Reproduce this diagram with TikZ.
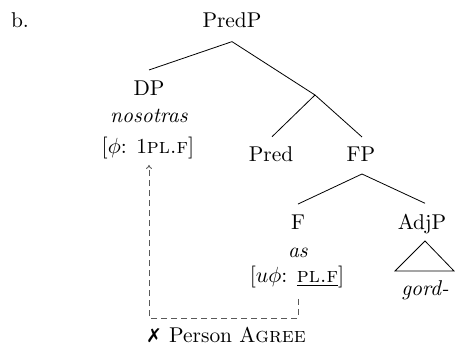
\documentclass[tikz,border=0pt]{standalone}
\usepackage{fontspec}
\newfontfamily\symfont{DejaVu Sans}
\usetikzlibrary{arrows.meta}
\begin{document}
\begin{tikzpicture}[x=0.5pt,y=-0.5pt,
  every node/.style={inner sep=0pt,anchor=base,font=\fontsize{10.7}{12}\selectfont},
  branch/.style={line width=0.4pt,black},
  agree/.style={dashed,dash pattern=on 3pt off 2pt,line width=0.45pt,black!65}]
\useasboundingbox (0,0) rectangle (455,352);
% example label
\node (ex) at (20,28) {b.};
% tree nodes (positions given at baselines)
\node (predp) at (232,28) {PredP};
\node (dp) at (149,96) {DP};
\node (dpw) at (149,123) {\textit{nosotras}};
\node (dpf) at (148,154) {$[\phi$: 1\textsc{pl.f}$]$};
\coordinate (bar) at (315,95);
\node (pred) at (271,162) {Pred};
\node (fp) at (361,162) {FP};
\coordinate (fbar) at (362,174);
\node (f) at (298,230) {F};
\node (fw) at (298,257) {\textit{as}};
\node (ff) at (297,283) {$[u\phi$: \underline{\textsc{pl.f}}$]$};
\node (adjp) at (422,230) {AdjP};
\coordinate (tri) at (425,241);
\node (adjw) at (425,295) {\textit{gord-}};
\node (agr) at (226,343) {{\symfont\fontsize{9.5}{11}\selectfont\bfseries ✗} Person A\textsc{gree}};
% branches
\draw[branch] ([yshift=-6.5pt]predp.south) -- ([yshift=5.5pt]dp.north);
\draw[branch] ([yshift=-6.5pt]predp.south) -- (bar);
\draw[branch] (bar) -- ([xshift=0.5pt,yshift=5pt]pred.north);
\draw[branch] (bar) -- ([xshift=0.5pt,yshift=5pt]fp.north);
\draw[branch] (fbar) -- ([yshift=5.5pt]f.north);
\draw[branch] (fbar) -- ([xshift=1.5pt,yshift=5.5pt]adjp.north);
% roof over the adjective
\draw[branch] (tri) -- ++(-30,30) -- ++(59,0) -- cycle;
% failed agreement path
\coordinate (c1) at (298,318);
\coordinate (c2) at (149,318);
\draw[agree,-{To[length=2pt,width=3pt]}] ([yshift=-5pt]ff.south -| c1) -- (c1) -- (c2) -- ([yshift=-2.5pt]dpf.south -| c2);
\end{tikzpicture}
\end{document}
